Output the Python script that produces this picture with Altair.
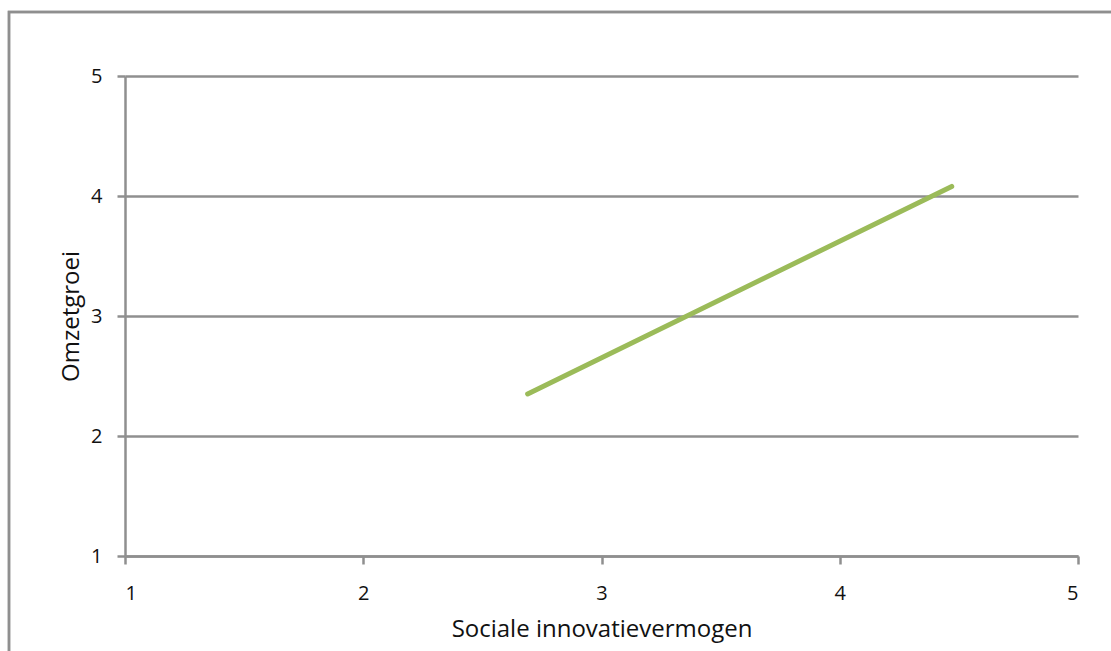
import altair as alt
import pandas as pd

# Data
x_vals = [2.69, 4.47]
y_vals = [2.35, 4.08]
x_ticks = [1, 2, 3, 4, 5]
y_ticks = [1, 2, 3, 4, 5]

df = pd.DataFrame({"x": x_vals, "y": y_vals})

FONT = "Open Sans"
GRAY = "#8f8f8f"

line = alt.Chart(df).mark_line(
    color="#9bbb59", strokeWidth=5, strokeCap="round", clip=False
).encode(
    x=alt.X("x:Q",
            scale=alt.Scale(domain=[1, 5], nice=False, zero=False),
            axis=alt.Axis(values=x_ticks, title="Sociale innovatievermogen",
                          grid=False, tickSize=8, labelPadding=19,
                          titlePadding=14, format="d")),
    y=alt.Y("y:Q",
            scale=alt.Scale(domain=[1, 5], nice=False, zero=False),
            axis=alt.Axis(values=y_ticks, title="Omzetgroei",
                          grid=True, tickSize=8, labelPadding=15,
                          titlePadding=7, format="d")),
)

border = alt.Chart(df).mark_rect(
    fill=None, stroke=GRAY, strokeWidth=2.5, clip=False
).encode(
    x=alt.value(-116), x2=alt.value(1100),
    y=alt.value(-64), y2=alt.value(700),
)

chart = alt.layer(border, line).properties(
    width=953, height=480,
    autosize=alt.AutoSizeParams(type="none"),
    padding={"left": 125, "top": 76, "right": 33, "bottom": 95},
).configure_view(
    stroke=None
).configure_axis(
    domainColor=GRAY, domainWidth=2.5,
    tickColor=GRAY, tickWidth=2.5,
    gridColor=GRAY, gridWidth=2.5,
    labelFont=FONT, labelFontSize=20, labelColor="#111111",
    titleFont=FONT, titleFontSize=24, titleFontWeight="normal", titleColor="#111111",
)

chart.save("out.html", embed_options={"renderer": "svg", "actions": False})
